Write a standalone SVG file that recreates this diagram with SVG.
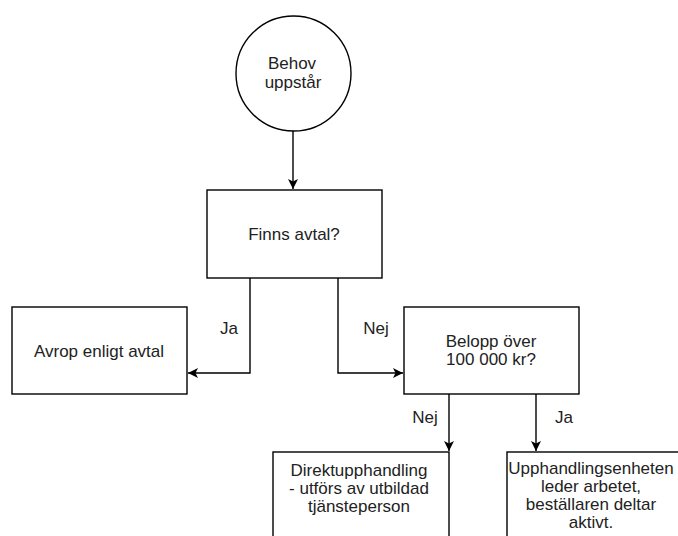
<svg xmlns="http://www.w3.org/2000/svg" width="678" height="536" viewBox="0 0 678 536">
<style>
.shape{fill:#fff;stroke:#000;stroke-width:1.4}
.edge{fill:none;stroke:#000;stroke-width:1.4}
text{font-family:"Liberation Sans",Arial,Helvetica,sans-serif;font-size:17px;fill:#222;text-anchor:middle}
</style>
<defs>
<marker id="arr" viewBox="0 0 10 10" refX="10" refY="5" markerWidth="10" markerHeight="10" markerUnits="userSpaceOnUse" orient="auto">
<path d="M0,0 L10,5 L0,10 L2.5,5 Z" fill="#000"/>
</marker>
</defs>
<rect width="678" height="536" fill="#fff"/>
<g id="connectors">
<path class="edge" d="M293,131 V189" marker-end="url(#arr)"/>
<path class="edge" d="M250,278 V373 H188" marker-end="url(#arr)"/>
<path class="edge" d="M338,278 V373 H403" marker-end="url(#arr)"/>
<path class="edge" d="M449,394 V451" marker-end="url(#arr)"/>
<path class="edge" d="M536,394 V451" marker-end="url(#arr)"/>
<text x="229" y="334">Ja</text>
<text x="376" y="334">Nej</text>
<text x="425" y="423">Nej</text>
<text x="564" y="423">Ja</text>
</g>
<g id="start">
<circle class="shape" cx="293.5" cy="73.5" r="57.5"/>
<text x="292" y="69">Behov</text>
<text x="293" y="88">uppstår</text>
</g>
<g id="finns">
<rect class="shape" x="207" y="190" width="175" height="88"/>
<text x="294" y="240">Finns avtal?</text>
</g>
<g id="avrop">
<rect class="shape" x="12" y="307" width="175" height="87"/>
<text x="99" y="357">Avrop enligt avtal</text>
</g>
<g id="belopp">
<rect class="shape" x="404" y="307" width="175" height="87"/>
<text x="491" y="347">Belopp över</text>
<text x="491" y="365">100 000 kr?</text>
</g>
<g id="direkt">
<rect class="shape" x="273" y="452" width="176" height="90"/>
<text x="359" y="476">Direktupphandling</text>
<text x="359" y="494">- utförs av utbildad</text>
<text x="359" y="512">tjänsteperson</text>
</g>
<g id="upphandling">
<rect class="shape" x="507" y="452" width="175" height="90"/>
<text x="591" y="474">Upphandlingsenheten</text>
<text x="591" y="492">leder arbetet,</text>
<text x="591" y="510">beställaren deltar</text>
<text x="591" y="528">aktivt.</text>
</g>
</svg>
